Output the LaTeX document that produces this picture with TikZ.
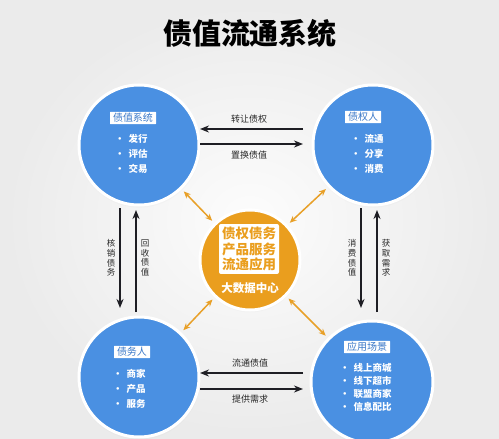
\documentclass[tikz,border=0pt]{standalone}
\usepackage{fontspec}
\setmainfont{Noto Sans CJK SC}
\usetikzlibrary{arrows.meta,shadows}
\definecolor{cblue}{RGB}{74,144,226}
\definecolor{cbluetext}{RGB}{58,120,200}
\definecolor{corange}{RGB}{234,158,30}
\definecolor{carrow}{RGB}{232,160,40}
\definecolor{cdark}{RGB}{30,30,36}
\definecolor{ctext}{RGB}{40,40,40}
\tikzset{
  bigcircle/.style={circle, fill=cblue, draw=white, line width=3pt, minimum size=120pt, inner sep=0pt,
    circular drop shadow={shadow xshift=0pt, shadow yshift=-1pt, opacity=0.18, shadow scale=1.03}},
  midcircle/.style={circle, fill=corange, draw=white, line width=3pt, minimum size=100pt, inner sep=0pt,
    circular drop shadow={shadow xshift=0pt, shadow yshift=-1pt, opacity=0.18, shadow scale=1.03}},
  tagbox/.style={fill=white, text=cbluetext, font=\fontsize{10}{12}\selectfont, inner xsep=3pt, inner ysep=1.5pt, rounded corners=0.5pt},
  items/.style={text=white, font=\bfseries\fontsize{9.5}{15}\selectfont, align=left, inner sep=0pt, anchor=north west},
  items4/.style={items, font=\bfseries\fontsize{9.5}{12.7}\selectfont},
  flowlabel/.style={text=ctext, font=\fontsize{9}{11}\selectfont, inner sep=0pt},
  vlabel/.style={text=ctext, font=\fontsize{8.5}{9.6}\selectfont, align=center, inner sep=0pt},
  flow/.style={draw=cdark, line width=1.6pt, -{Stealth[length=9pt,width=7pt]}},
  oarrow/.style={draw=carrow, line width=1.5pt, {Stealth[length=7pt,width=6pt]}-{Stealth[length=7pt,width=6pt]}, shorten <=3pt, shorten >=3pt},
}
\begin{document}
\begin{tikzpicture}[x=1pt,y=-1pt]
\useasboundingbox (0,0) rectangle (499,439);
\shade[inner color=white!60!gray!5, outer color=gray!16] (0,0) rectangle (499,439);
\node[font=\bfseries\fontsize{29}{32}\selectfont, text=black] (title) at (250,33) {债值流通系统};
% circles
\node[bigcircle] (tl) at (139,145) {};
\node[bigcircle] (tr) at (373,145) {};
\node[bigcircle] (bl) at (139,377) {};
\node[bigcircle, minimum size=122pt] (br) at (372,382) {};
\node[midcircle] (c) at (250,260) {};
% labels in circles
\node[tagbox] (tltag) at (133,118) {债值系统};
\node[items] (tlitems) at (115,134.5) {•\hspace{4pt}发行\\•\hspace{4pt}评估\\•\hspace{4pt}交易};
\node[tagbox] (trtag) at (363,117) {债权人};
\node[items] (tritems) at (351,134.5) {•\hspace{4pt}流通\\•\hspace{4pt}分享\\•\hspace{4pt}消费};
\node[tagbox] (bltag) at (132,352) {债务人};
\node[items] (blitems) at (113,369.5) {•\hspace{4pt}商家\\•\hspace{4pt}产品\\•\hspace{4pt}服务};
\node[tagbox] (brtag) at (367,347) {应用场景};
\node[items4] (britems) at (340,363.5) {•\hspace{4pt}线上商城\\•\hspace{4pt}线下超市\\•\hspace{4pt}联盟商家\\•\hspace{4pt}信息配比};
% center
\node[fill=white, rounded corners=2pt, text=corange, font=\bfseries\fontsize{13.5}{15.5}\selectfont, align=center, inner xsep=3pt, inner ysep=3pt] (ctext) at (249,249) {债权债务\\产品服务\\流通应用};
\node[text=white, font=\bfseries\fontsize{11.5}{13}\selectfont] (cbig) at (250,288) {大数据中心};
% orange double arrows
\draw[oarrow] (tl) -- (c);
\draw[oarrow] (tr) -- (c);
\draw[oarrow] (bl) -- (c);
\draw[oarrow] (br) -- (c);
% horizontal flows
\coordinate (h1r) at (303,129); \coordinate (h1l) at (200,129);
\coordinate (h2l) at (200,144); \coordinate (h2r) at (303,144);
\coordinate (h3r) at (303,373); \coordinate (h3l) at (200,373);
\coordinate (h4l) at (200,389); \coordinate (h4r) at (303,389);
\draw[flow] (h1r) -- (h1l);
\draw[flow] (h2l) -- (h2r);
\draw[flow] (h3r) -- (h3l);
\draw[flow] (h4l) -- (h4r);
\node[flowlabel] (l1) at (249,119) {转让债权};
\node[flowlabel] (l2) at (249,155) {置换债值};
\node[flowlabel] (l3) at (250,363) {流通债值};
\node[flowlabel] (l4) at (250,399) {提供需求};
% vertical flows
\coordinate (v1t) at (120,208); \coordinate (v1b) at (120,308);
\coordinate (v2b) at (136,312); \coordinate (v2t) at (136,210);
\coordinate (v3t) at (361,208); \coordinate (v3b) at (361,308);
\coordinate (v4b) at (377,312); \coordinate (v4t) at (377,210);
\draw[flow] (v1t) -- (v1b);
\draw[flow] (v2b) -- (v2t);
\draw[flow] (v3t) -- (v3b);
\draw[flow] (v4b) -- (v4t);
\node[vlabel] (vl1) at (111,258) {核\\销\\债\\务};
\node[vlabel] (vl2) at (145,258) {回\\收\\债\\值};
\node[vlabel] (vl3) at (352,258) {消\\费\\债\\值};
\node[vlabel] (vl4) at (386,258) {获\\取\\需\\求};
\end{tikzpicture}
\end{document}
